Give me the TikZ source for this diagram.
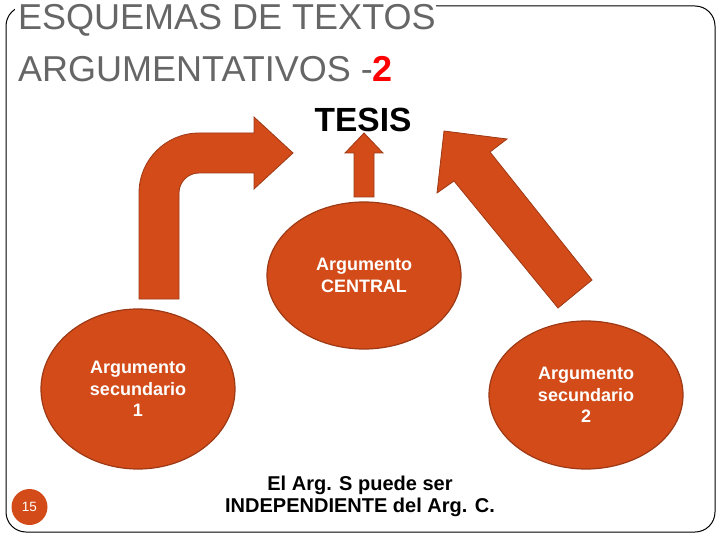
\documentclass[tikz,border=0pt]{standalone}
\usepackage{fontspec}
\setmainfont{Liberation Sans}
\usetikzlibrary{shapes.geometric}
\definecolor{orng}{HTML}{D24B19}
\definecolor{orngline}{HTML}{9E3915}
\definecolor{titlegray}{HTML}{666666}
\begin{document}
\begin{tikzpicture}[x=1pt,y=-1pt,
  blob/.style={ellipse, fill=orng, draw=orngline, line width=1.2pt, inner sep=0pt,
    text=white, align=center, font=\bfseries\fontsize{18}{21.5}\selectfont},
  blockarrow/.style={fill=orng, draw=orngline, line width=0.8pt, line join=miter},
  titletext/.style={anchor=base west, inner sep=0pt, text=titlegray, font=\fontsize{36}{40}\selectfont}
]
\useasboundingbox (0,0) rectangle (720,540);
% slide frame
\draw[line width=1pt, rounded corners=20pt] (6,6) rectangle (715,532);
\fill[white] (15,0) rectangle (436,36);
% title
\node[titletext] (title1) at (18,30) {ESQUEMAS DE TEXTOS};
\node[titletext] (title2) at (18,82) {ARGUMENTATIVOS -{\bfseries\color{red}2}};
% thesis
\node[anchor=base, inner sep=0pt, font=\bfseries\fontsize{33.5}{36}\selectfont] (tesis) at (363,132) {TESIS};
% arguments
\node[blob, minimum width=194pt, minimum height=147pt] (c) at (364,275.5) {Argumento\\CENTRAL};
\node[blob, minimum width=194pt, minimum height=160pt] (s1) at (138,389) {Argumento\\secundario\\1};
\node[blob, minimum width=194pt, minimum height=148pt] (s2) at (586,395) {Argumento\\secundario\\2};
% bent arrow from s1
\path[blockarrow] (139,299) -- (139,193) .. controls (139,159.9) and (165.9,133) .. (199,133)
  -- (254,133) -- (254,117) -- (293,153) -- (254,189) -- (254,173) -- (199,173)
  .. controls (187.95,173) and (179,181.95) .. (179,193) -- (179,299) -- cycle;
% straight arrow from c
\path[blockarrow] (354,197) -- (354,153) -- (345,153) -- (364,133) -- (383,153) -- (374,153) -- (374,197) -- cycle;
% diagonal arrow from s2
\path[blockarrow] (444,131) -- (507,139) -- (490,152) -- (592,280) -- (558,308) -- (454,181) -- (437,193) -- cycle;
% note
\node[inner sep=0pt, align=center, font=\bfseries\fontsize{20}{22}\selectfont] (note) at (360,496)
  {El Arg. S puede ser\\INDEPENDIENTE del Arg. C.};
% page number
\node[circle, fill=orng, minimum size=36pt, inner sep=0pt, text=white, font=\fontsize{13.5}{14}\selectfont] (pg) at (29.5,507) {15};
\end{tikzpicture}
\end{document}
